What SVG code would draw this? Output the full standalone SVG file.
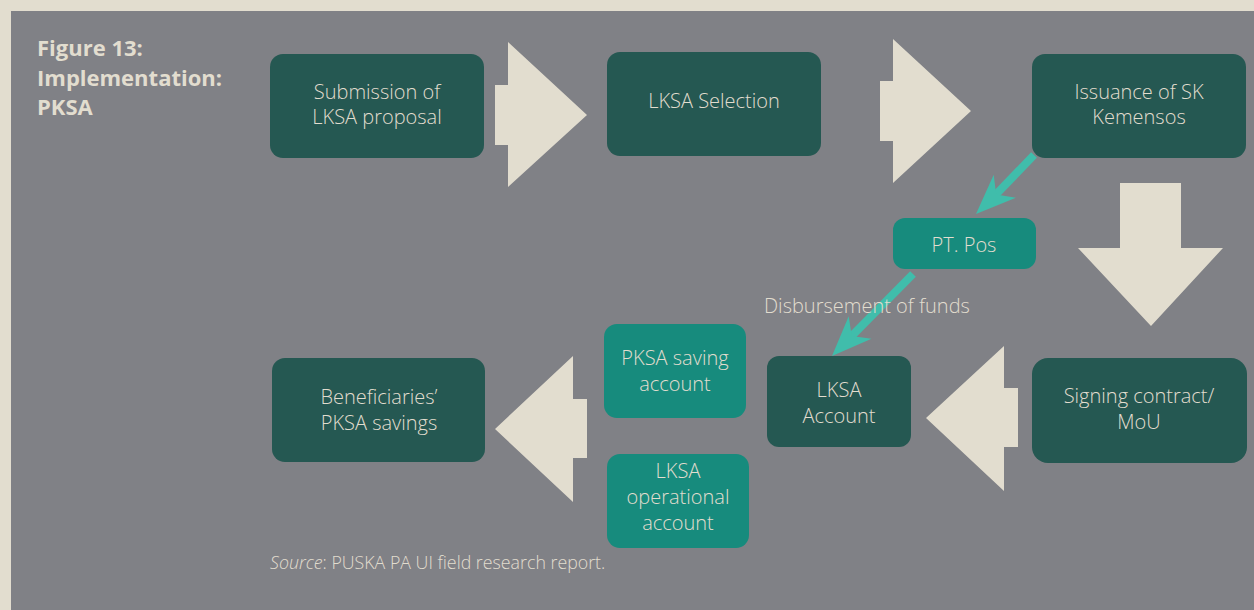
<svg xmlns="http://www.w3.org/2000/svg" width="1254" height="610" viewBox="0 0 1254 610">
<defs>
<style>
.dark{fill:#255852}
.teal{fill:#178b7d}
.big{fill:#e2ddcf}
.t{font-family:"Open Sans","Liberation Sans",sans-serif;font-size:20px;font-weight:300;fill:#e2ddcf;text-anchor:middle}
.title{font-family:"Open Sans","Liberation Sans",sans-serif;font-size:22px;font-weight:bold;fill:#e2ddcf}
.lbl{font-family:"Open Sans","Liberation Sans",sans-serif;font-size:20px;font-weight:300;fill:#e2ddcf}
.src{font-family:"Open Sans","Liberation Sans",sans-serif;font-size:17.8px;font-weight:300;fill:#e2ddcf}
.conn{stroke:#40bdab;stroke-width:8;fill:none}
.head{fill:#40bdab}
</style>
</defs>
<rect x="0" y="0" width="1254" height="610" fill="#e2ddcf"/>
<rect x="11" y="11" width="1243" height="599" fill="#808186"/>

<g id="title">
<text class="title" x="37" y="56">Figure 13:</text>
<text class="title" x="37" y="86">Implementation:</text>
<text class="title" x="37" y="115">PKSA</text>
</g>

<g id="flow-arrows">
<polygon class="big" points="495,85 508,85 508,42 587,115 508,187 508,145 495,145"/>
<polygon class="big" points="880,81 893,81 893,39 971,111 893,183 893,141 880,141"/>
<polygon class="big" points="1120,183 1181,183 1181,248 1223,248 1151,326 1078,248 1120,248"/>
<polygon class="big" points="1018,388 1004,388 1004,346 926,418 1004,491 1004,447 1018,447"/>
<polygon class="big" points="587,399 573,399 573,356 495,429 573,502 573,458 587,458"/>
</g>

<g id="n-submission">
<rect class="dark" x="270" y="54" width="214" height="104" rx="13"/>
<text class="t" x="377" y="99">Submission of</text>
<text class="t" x="377" y="124">LKSA proposal</text>
</g>
<g id="n-selection">
<rect class="dark" x="607" y="52" width="214" height="104" rx="13"/>
<text class="t" x="714" y="108">LKSA Selection</text>
</g>
<g id="n-issuance">
<rect class="dark" x="1032" y="54" width="214" height="104" rx="13"/>
<text class="t" x="1139" y="99">Issuance of SK</text>
<text class="t" x="1139" y="124">Kemensos</text>
</g>
<g id="n-ptpos">
<rect class="teal" x="893" y="218" width="143" height="51" rx="12"/>
<text class="t" x="964" y="252">PT. Pos</text>
</g>
<g id="n-signing">
<rect class="dark" x="1032" y="358" width="215" height="105" rx="16"/>
<text class="t" x="1139" y="403">Signing contract/</text>
<text class="t" x="1139" y="429">MoU</text>
</g>
<g id="n-lksa-account">
<rect class="dark" x="767" y="356" width="144" height="91" rx="12"/>
<text class="t" x="839" y="397">LKSA</text>
<text class="t" x="839" y="423">Account</text>
</g>
<g id="n-pksa-saving">
<rect class="teal" x="604" y="324" width="142" height="94" rx="13"/>
<text class="t" x="675" y="365">PKSA saving</text>
<text class="t" x="675" y="391">account</text>
</g>
<g id="n-lksa-operational">
<rect class="teal" x="607" y="454" width="142" height="94" rx="13"/>
<text class="t" x="678" y="478">LKSA</text>
<text class="t" x="678" y="504">operational</text>
<text class="t" x="678" y="530">account</text>
</g>
<g id="n-beneficiaries">
<rect class="dark" x="272" y="358" width="213" height="104" rx="13"/>
<text class="t" x="379" y="404">Beneficiaries’</text>
<text class="t" x="379" y="430">PKSA savings</text>
</g>

<g id="connectors">
<line class="conn" x1="1034" y1="155" x2="993.3" y2="197.3"/>
<polygon class="head" points="976,214 993.7,174.7 996.2,194.5 1015.9,197.7"/>
<line class="conn" x1="913" y1="274" x2="848.9" y2="338.9"/>
<polygon class="head" points="832,356 848.7,316.3 851.7,336.1 871.5,338.7"/>
<text class="lbl" x="764" y="313">Disbursement of funds</text>
</g>

<text class="src" x="270" y="569"><tspan font-style="italic">Source</tspan>: PUSKA PA UI field research report.</text>
</svg>
